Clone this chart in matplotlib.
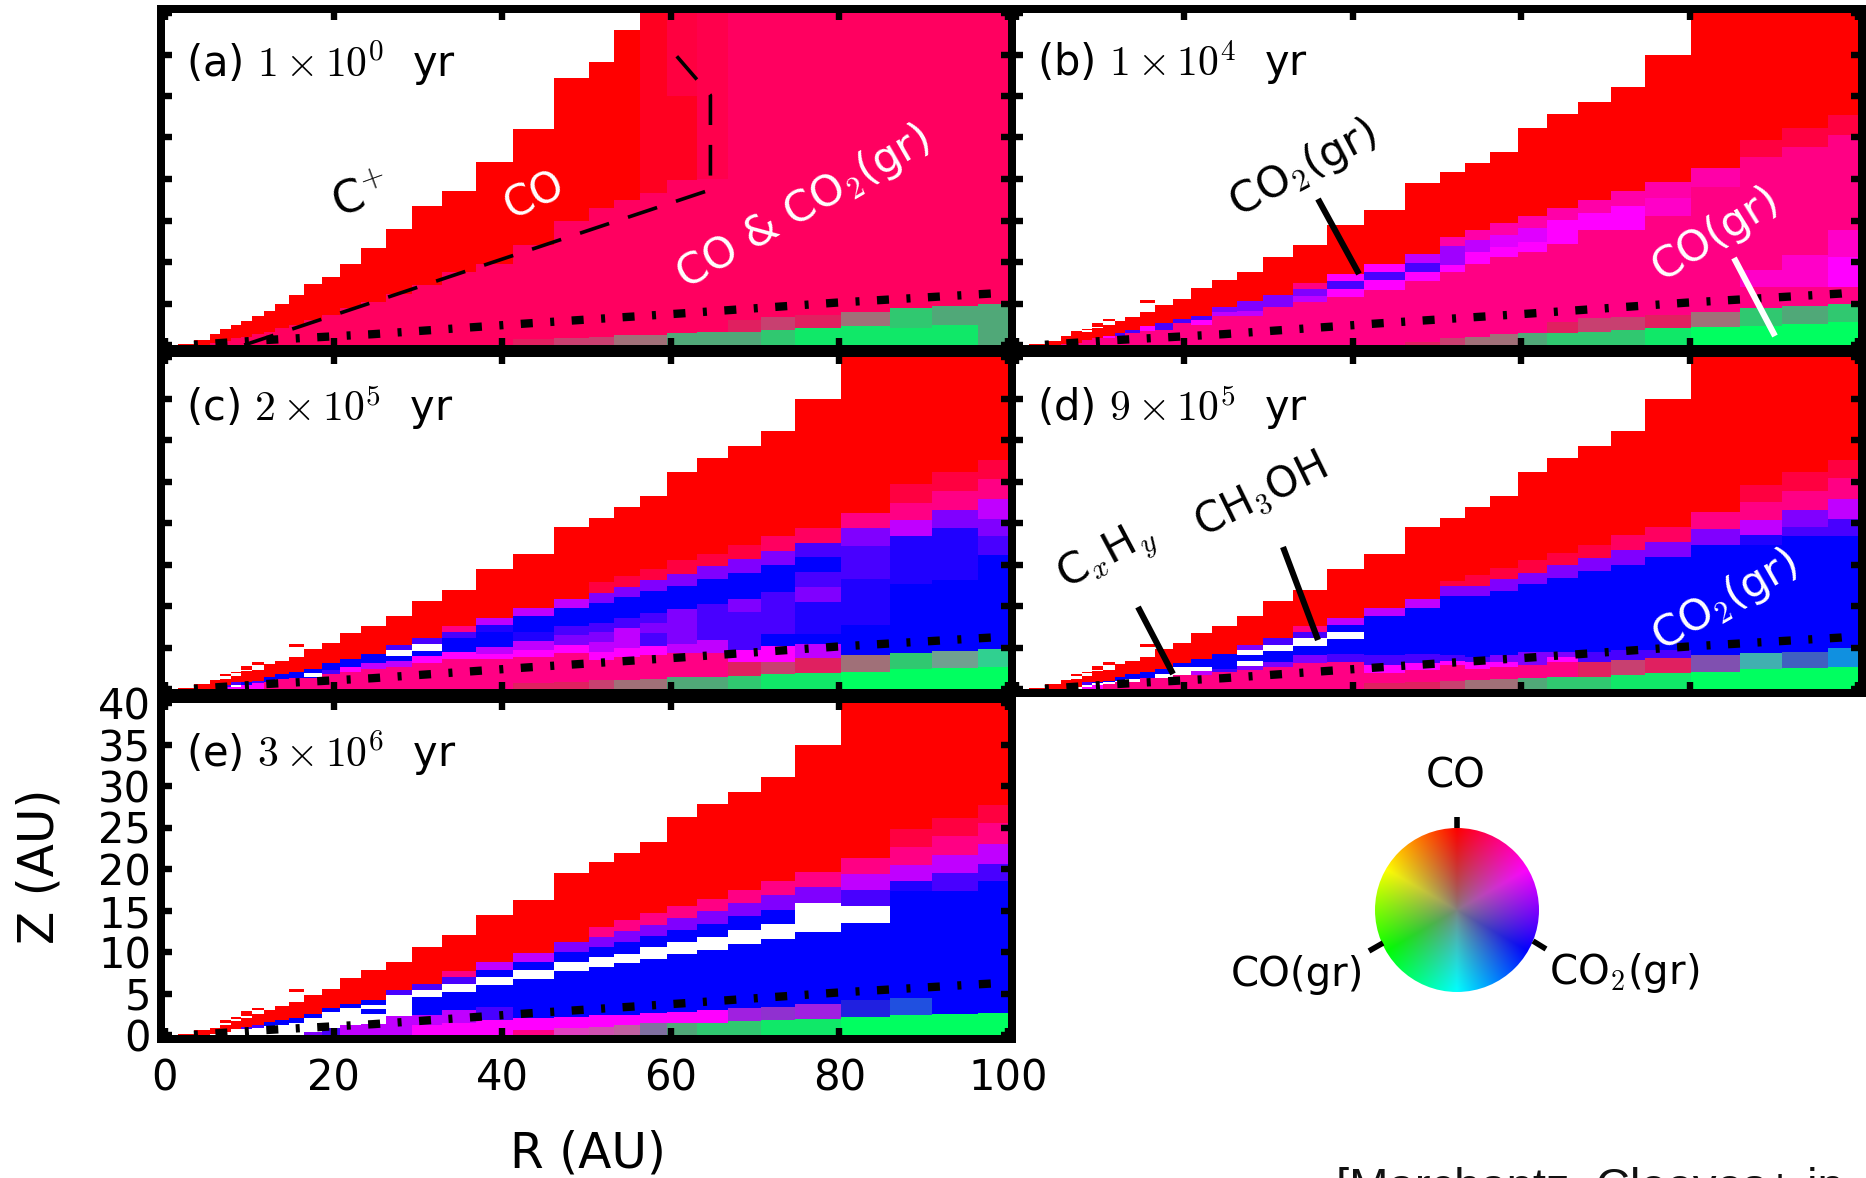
import numpy as np
import matplotlib
matplotlib.use("Agg")
import matplotlib.pyplot as plt
from matplotlib.colors import hsv_to_rgb
from matplotlib.lines import Line2D
from matplotlib.patches import Rectangle, Circle

plt.rcParams['font.family'] = ['DejaVu Sans']
plt.rcParams['mathtext.fontset'] = 'cm'

W, H = 1866, 1178

R_EDGES = [1.5, 3.4, 5.3, 6.5, 7.8, 9.0, 10.3, 11.7, 13.0, 14.7, 16.5, 18.6, 20.8, 23.3, 26.2, 29.3,
           32.9, 36.9, 41.3, 46.2, 50.3, 53.3, 56.3, 59.6, 63.1, 66.8, 70.7, 74.7, 80.2, 86.0, 91.0, 96.4, 100.0]

COLORS = {
    'W': '#ffffff', 'R': '#ff0000', 'E': '#ff0020', 'D': '#ff0040', 'F': '#ff004c', 'C': '#ff0060', 'H': '#ff0084',
    'N': '#ff00a8', 'Q': '#ff00c8', 'M': '#ff00ff', 'U': '#e000ff', 'V': '#c000ff', 'A': '#a000ff',
    'P': '#8000ff', 'I': '#4800ff', 'L': '#2000ff', 'B': '#0000ff',
    'G': '#00ff60', 'g0': '#10e868', 'g1': '#30c870', 'g2': '#50a878', 'g3': '#a07078', 'g4': '#c84070',
    'g5': '#e02060', 'T1': '#8050b0', 'T2': '#40b0b0', 'T3': '#4060c0', 'T4': '#1090e0', 'T5': '#2050e0',
    'T6': '#2020e0', 'T7': '#a020e0', 'T8': '#9030d0', 'X1': '#30d090', 'X2': '#70a090', 'X3': '#8070a0',
    'X4': '#c060a0', 'X5': '#d050b0', 'X6': '#e040c0',
}

# each column of each panel: (top of the cell in AU, colour code), from the midplane upwards
A_CELLS = [
    [(.1, 'R')], [(.6, 'R')], [(.3, 'C'), (1.3, 'R')], [(.5, 'C'), (1.9, 'R')], [(.8, 'C'), (2.4, 'R')],
    [(1, 'C'), (2.9, 'R')], [(1.3, 'C'), (3.5, 'R')], [(1.6, 'C'), (4.1, 'R')], [(2, 'C'), (4.9, 'R')],
    [(2.4, 'C'), (6, 'R')], [(3, 'C'), (7.3, 'R')], [(3.6, 'C'), (8.2, 'R')], [(4.4, 'C'), (9.8, 'R')],
    [(5.2, 'C'), (11.7, 'R')], [(6.2, 'C'), (14, 'R')], [(7.2, 'C'), (16.7, 'R')], [(8.8, 'C'), (18.6, 'R')],
    [(9.8, 'C'), (22, 'R')], [(.7, 'g5'), (12, 'C'), (26, 'R')], [(.9, 'g4'), (14.9, 'C'), (32.2, 'R')],
    [(1, 'g4'), (16.5, 'C'), (34.1, 'R')], [(1.2, 'g3'), (17.5, 'C'), (37.9, 'R')],
    [(1.2, 'g3'), (18.3, 'C'), (40, 'E')], [(1.4, 'g2'), (19.9, 'C'), (30, 'E'), (40, 'D')],
    [(1.6, 'g2'), (20, 'C'), (40, 'F')], [(1.6, 'g2'), (3, 'g5'), (40, 'C')], [(1.8, 'g1'), (3.4, 'g4'), (40, 'C')],
    [(2, 'g0'), (3.6, 'g5'), (40, 'C')], [(2.3, 'g0'), (4, 'g3'), (40, 'C')], [(2, 'g0'), (4.4, 'g1'), (40, 'C')],
    [(2.4, 'g0'), (4.7, 'g2'), (40, 'C')], [(5, 'g2'), (40, 'C')],
]
B_CELLS = [
    [(.1, 'R')], [(.5, 'R')], [(.1, 'H'), (1.1, 'R')], [(.3, 'H'), (1.4, 'R'), (1.5, 'W'), (1.7, 'R')],
    [(.6, 'H'), (1.6, 'R'), (1.8, 'W'), (1.9, 'R')], [(.8, 'H'), (2.1, 'R'), (2.2, 'W'), (2.7, 'R')],
    [(.8, 'H'), (1.1, 'M'), (2.4, 'R'), (2.9, 'W'), (3.1, 'R')], [(1.1, 'H'), (1.4, 'I'), (2.9, 'R')],
    [(1.4, 'H'), (1.8, 'I'), (3.4, 'R')], [(1.7, 'H'), (2.3, 'M'), (4, 'R'), (5.1, 'W'), (5.4, 'R')],
    [(1.8, 'H'), (2.7, 'I'), (4.8, 'R')], [(2.6, 'H'), (3.1, 'I'), (5.6, 'R')],
    [(2.4, 'H'), (3, 'M'), (3.5, 'I'), (6.9, 'R')], [(3.5, 'H'), (4, 'V'), (4.6, 'P'), (7.8, 'R')],
    [(3.5, 'H'), (4.1, 'V'), (5.3, 'P'), (8.8, 'R')], [(4.6, 'H'), (6, 'P'), (10.6, 'R')],
    [(5.2, 'H'), (5.9, 'V'), (6.8, 'P'), (7.5, 'H'), (12, 'R')], [(5.8, 'H'), (6.8, 'M'), (7.7, 'I'), (8.6, 'M'), (14.5, 'R')],
    [(6.6, 'H'), (7.8, 'M'), (8.8, 'I'), (9.7, 'M'), (16.3, 'R')], [(.4, 'g5'), (7.7, 'H'), (8.8, 'M'), (9.9, 'I'), (11, 'V'), (19.5, 'R')],
    [(.8, 'g4'), (8.8, 'H'), (9.6, 'M'), (11.9, 'A'), (13, 'N'), (20.8, 'R')],
    [(1, 'g3'), (9.8, 'H'), (11.2, 'M'), (12.6, 'V'), (13.9, 'N'), (21.9, 'R')],
    [(1.3, 'g3'), (10.6, 'H'), (11.8, 'M'), (13.3, 'U'), (14.7, 'N'), (23.2, 'R')],
    [(1.4, 'g2'), (11.2, 'H'), (12.4, 'M'), (14.1, 'U'), (15.5, 'N'), (26.1, 'R')],
    [(1.4, 'g1'), (2.8, 'g5'), (12.2, 'H'), (15.1, 'M'), (16.5, 'N'), (27.8, 'R')],
    [(1.6, 'g1'), (3.2, 'g4'), (13.9, 'H'), (15.9, 'M'), (17.5, 'N'), (29.3, 'R')],
    [(1.8, 'g1'), (3.4, 'g4'), (13.9, 'H'), (16.7, 'M'), (18.5, 'N'), (31.1, 'R')],
    [(2, 'g0'), (3.6, 'g5'), (15.5, 'H'), (17.7, 'Q'), (19.6, 'N'), (34.9, 'R')],
    [(2.2, 'G'), (4, 'g3'), (19, 'H'), (21.3, 'N'), (40, 'R')],
    [(2.3, 'G'), (4.4, 'g1'), (7, 'H'), (9, 'Q'), (22.7, 'H'), (24.7, 'D'), (40, 'R')],
    [(2.5, 'G'), (4.7, 'g2'), (7, 'H'), (10.8, 'Q'), (23.9, 'H'), (26.1, 'D'), (40, 'R')],
    [(2.8, 'G'), (5, 'g1'), (7, 'H'), (10.6, 'M'), (13.9, 'Q'), (25.3, 'H'), (27.7, 'D'), (40, 'R')],
]
C_CELLS = [
    [(.1, 'R')], [(.6, 'R')], [(1.1, 'R')], [(.2, 'M'), (.5, 'I'), (1.2, 'R'), (1.6, 'W'), (1.8, 'R')],
    [(.2, 'M'), (.5, 'W'), (.8, 'I'), (1.6, 'R'), (1.9, 'W'), (2.1, 'R')],
    [(.5, 'M'), (.9, 'B'), (2.2, 'R'), (2.3, 'W'), (2.8, 'R')], [(.7, 'M'), (1, 'I'), (2.3, 'R'), (2.9, 'W'), (3.2, 'R')],
    [(.9, 'H'), (1.5, 'B'), (3, 'R')], [(1.2, 'H'), (1.8, 'B'), (3.4, 'R')],
    [(1.3, 'H'), (2, 'B'), (3.9, 'R'), (5.1, 'W'), (5.4, 'R')], [(1.3, 'H'), (1.5, 'B'), (1.9, 'W'), (2.4, 'B'), (4.8, 'R')],
    [(1.8, 'H'), (2.3, 'I'), (3.1, 'B'), (5.5, 'R')], [(2.1, 'H'), (2.7, 'M'), (3.6, 'B'), (6.7, 'R')],
    [(2.4, 'H'), (3.1, 'V'), (4.2, 'B'), (7.6, 'R')], [(2.7, 'H'), (3.4, 'V'), (4, 'B'), (4.7, 'W'), (5.3, 'I'), (8.8, 'R')],
    [(3.1, 'H'), (4, 'M'), (4.6, 'B'), (5.4, 'W'), (6.1, 'I'), (10.6, 'R')],
    [(3.6, 'H'), (4.4, 'M'), (6.1, 'B'), (6.9, 'I'), (7.6, 'H'), (11.9, 'R')],
    [(3.6, 'H'), (4.2, 'M'), (5.1, 'V'), (6.9, 'B'), (7.7, 'L'), (8.6, 'V'), (14.5, 'R')],
    [(.7, 'g5'), (3.9, 'H'), (4.7, 'M'), (5.8, 'V'), (6.9, 'L'), (8.8, 'B'), (9.8, 'V'), (16.3, 'R')],
    [(.9, 'g5'), (4.3, 'H'), (5.3, 'M'), (6.5, 'P'), (7.6, 'I'), (9.8, 'B'), (10.9, 'V'), (19.5, 'R')],
    [(1.1, 'g4'), (3.5, 'H'), (4.5, 'M'), (5.7, 'V'), (6.9, 'P'), (8, 'I'), (10.4, 'B'), (11.6, 'P'), (12.9, 'D'), (20.6, 'R')],
    [(1.1, 'g3'), (3.9, 'H'), (4.9, 'M'), (7.3, 'V'), (8.5, 'I'), (11.1, 'B'), (12.3, 'P'), (13.6, 'D'), (21.9, 'R')],
    [(1.2, 'g3'), (4.1, 'H'), (5.2, 'M'), (6.7, 'I'), (7.9, 'P'), (9.1, 'I'), (11.8, 'B'), (13.1, 'P'), (14.4, 'D'), (23.2, 'R')],
    [(1.4, 'g2'), (4.3, 'H'), (5.4, 'V'), (9.6, 'P'), (12.4, 'B'), (13.9, 'P'), (15.5, 'D'), (26.1, 'R')],
    [(1.5, 'g2'), (4.3, 'H'), (5.9, 'V'), (10.3, 'I'), (13.3, 'B'), (14.8, 'P'), (16.3, 'D'), (27.8, 'R')],
    [(1.6, 'g1'), (3.2, 'g5'), (4.7, 'M'), (9.3, 'I'), (10.9, 'P'), (14, 'B'), (15.7, 'P'), (17.3, 'D'), (29.3, 'R')],
    [(1.8, 'g0'), (3.3, 'g4'), (5.2, 'M'), (6.6, 'B'), (11.7, 'I'), (14.9, 'B'), (16.6, 'P'), (18.4, 'C'), (31.1, 'R')],
    [(1.9, 'g0'), (3.7, 'g5'), (5.4, 'V'), (6.6, 'B'), (10.5, 'L'), (12.3, 'P'), (14.1, 'I'), (15.9, 'B'), (17.6, 'I'), (19.4, 'C'), (34.9, 'R')],
    [(2.1, 'G'), (4.1, 'g3'), (7.7, 'B'), (13.3, 'L'), (17.2, 'I'), (19.4, 'P'), (21.2, 'H'), (40, 'R')],
    [(2.4, 'G'), (4.3, 'g1'), (12.7, 'B'), (18.4, 'L'), (20.4, 'V'), (22.4, 'H'), (24.7, 'D'), (40, 'R')],
    [(2.5, 'G'), (4.6, 'X2'), (13.1, 'B'), (19.4, 'L'), (21.6, 'P'), (23.9, 'H'), (26.1, 'D'), (40, 'R')],
    [(2.7, 'G'), (4.8, 'X1'), (16.1, 'B'), (18.4, 'I'), (20.5, 'P'), (22.9, 'V'), (25.3, 'H'), (27.6, 'D'), (40, 'R')],
]
D_CELLS = [
    [(.1, 'R')], [(.6, 'R')], [(1.1, 'R')], [(.3, 'W'), (1.2, 'R'), (1.6, 'W'), (1.8, 'R')],
    [(.3, 'M'), (.5, 'W'), (.8, 'I'), (1.6, 'R'), (1.9, 'W'), (2.1, 'R')],
    [(.5, 'M'), (.7, 'W'), (.9, 'B'), (2.2, 'R'), (2.3, 'W'), (2.8, 'R')],
    [(.6, 'H'), (.8, 'W'), (1, 'B'), (2.3, 'R'), (2.9, 'W'), (3.2, 'R')], [(.8, 'H'), (1, 'W'), (1.5, 'B'), (3, 'R')],
    [(.9, 'H'), (1.2, 'W'), (1.8, 'B'), (3.4, 'R')], [(1.3, 'H'), (2, 'B'), (3.9, 'R'), (5.1, 'W'), (5.4, 'R')],
    [(1.3, 'H'), (1.8, 'W'), (2.4, 'B'), (4.8, 'R')], [(1.7, 'H'), (2.6, 'W'), (3.1, 'B'), (5.5, 'R')],
    [(1.7, 'H'), (2.2, 'V'), (2.6, 'W'), (3.6, 'B'), (6.7, 'R')], [(2, 'H'), (2.4, 'I'), (4.2, 'B'), (7.6, 'R')],
    [(2.3, 'H'), (2.8, 'P'), (3.4, 'W'), (4.1, 'B'), (4.7, 'W'), (5.3, 'P'), (8.8, 'R')],
    [(2.7, 'H'), (3.2, 'P'), (4.6, 'B'), (5.3, 'W'), (6.1, 'I'), (10.6, 'R')],
    [(3.1, 'H'), (4.1, 'P'), (5.2, 'B'), (6.1, 'W'), (6.9, 'I'), (7.6, 'H'), (11.9, 'R')],
    [(3.3, 'H'), (4.2, 'I'), (6, 'B'), (6.9, 'W'), (7.7, 'B'), (8.6, 'V'), (14.5, 'R')],
    [(.7, 'g5'), (1.9, 'H'), (2.9, 'M'), (4.1, 'I'), (8.8, 'B'), (9.8, 'V'), (16.3, 'R')],
    [(.9, 'g5'), (2.3, 'H'), (3.1, 'M'), (4.2, 'I'), (9.8, 'B'), (10.9, 'V'), (19.5, 'R')],
    [(1, 'g4'), (2.9, 'H'), (3.4, 'M'), (4.1, 'I'), (11.2, 'B'), (12.4, 'P'), (13, 'D'), (20.6, 'R')],
    [(1.1, 'g3'), (2.4, 'H'), (3.3, 'M'), (3.9, 'I'), (11.2, 'B'), (12.4, 'P'), (13.7, 'D'), (21.9, 'R')],
    [(1.2, 'g3'), (2.6, 'H'), (3.3, 'M'), (4.1, 'P'), (11.8, 'B'), (13.2, 'P'), (14.6, 'D'), (23.2, 'R')],
    [(1.3, 'g2'), (2.9, 'H'), (4.5, 'P'), (12.6, 'B'), (14, 'P'), (15.5, 'D'), (26.1, 'R')],
    [(1.4, 'g1'), (3.3, 'H'), (3.9, 'M'), (4.5, 'P'), (13.4, 'B'), (14.9, 'P'), (16.4, 'D'), (27.8, 'R')],
    [(1.5, 'g1'), (3.3, 'g5'), (4.5, 'I'), (14.2, 'B'), (15.8, 'P'), (17.4, 'D'), (29.3, 'R')],
    [(1.7, 'g0'), (3.5, 'g4'), (4.7, 'I'), (15, 'B'), (16.7, 'P'), (18.5, 'C'), (31.1, 'R')],
    [(1.9, 'g0'), (3.7, 'g5'), (4.7, 'I'), (15.9, 'B'), (17.7, 'P'), (19.5, 'C'), (34.9, 'R')],
    [(2.1, 'G'), (4.1, 'T1'), (17.3, 'B'), (19.3, 'P'), (21.3, 'H'), (40, 'R')],
    [(2.4, 'G'), (4.3, 'T2'), (17.4, 'B'), (18.5, 'L'), (20.4, 'V'), (22.5, 'H'), (24.6, 'D'), (40, 'R')],
    [(2.5, 'G'), (4.5, 'T3'), (18.4, 'B'), (19.5, 'I'), (21.6, 'P'), (23.9, 'H'), (26.1, 'D'), (40, 'R')],
    [(2.7, 'G'), (4.9, 'T4'), (18.4, 'B'), (20.5, 'I'), (22.9, 'V'), (25.4, 'H'), (27.6, 'D'), (40, 'R')],
]
E_CELLS = [
    [(.1, 'R')], [(.6, 'R')], [(.1, 'W'), (.9, 'R')], [(.4, 'W'), (1.2, 'R'), (1.5, 'W'), (1.8, 'R')],
    [(.7, 'W'), (1.7, 'R'), (1.9, 'W'), (2.2, 'R')], [(.7, 'W'), (1, 'I'), (2.1, 'R'), (2.3, 'W'), (2.85, 'R')],
    [(.8, 'W'), (1.2, 'I'), (2.5, 'R'), (3, 'W'), (3.2, 'R')], [(1.1, 'W'), (1.6, 'B'), (3, 'R')],
    [(1.2, 'W'), (1.8, 'B'), (3.5, 'R')], [(1.4, 'W'), (2.1, 'B'), (4, 'R'), (5.2, 'W'), (5.5, 'R')],
    [(.4, 'P'), (2.1, 'W'), (2.5, 'B'), (4.8, 'R')], [(.8, 'I'), (2.8, 'W'), (3.2, 'B'), (5.6, 'R')],
    [(1.2, 'V'), (3.2, 'W'), (3.7, 'B'), (6.9, 'R')], [(1.3, 'V'), (2.5, 'W'), (3.1, 'B'), (3.6, 'W'), (4.2, 'B'), (7.8, 'R')],
    [(2.3, 'V'), (4.8, 'W'), (5.4, 'I'), (8.75, 'R')], [(1.2, 'M'), (2.4, 'V'), (4.6, 'B'), (5.4, 'W'), (6.2, 'I'), (10.6, 'R')],
    [(1.4, 'M'), (3, 'V'), (5.2, 'B'), (6.2, 'W'), (7, 'I'), (7.7, 'H'), (12, 'R')],
    [(1.8, 'M'), (3.4, 'I'), (6, 'B'), (7, 'W'), (7.8, 'B'), (8.8, 'V'), (14.5, 'R')],
    [(.6, 'H'), (2, 'M'), (6.8, 'B'), (7.8, 'W'), (8.8, 'B'), (9.9, 'V'), (16.3, 'R')],
    [(.9, 'X6'), (2.2, 'M'), (7.7, 'B'), (8.8, 'W'), (10, 'B'), (11.2, 'P'), (19.5, 'R')],
    [(1, 'X5'), (2.4, 'M'), (8.2, 'B'), (9.4, 'W'), (10.6, 'B'), (11.8, 'P'), (13, 'H'), (20.8, 'R')],
    [(1.2, 'X4'), (2.4, 'M'), (8.7, 'B'), (9.8, 'W'), (11.2, 'B'), (12.5, 'P'), (13.9, 'H'), (21.9, 'R')],
    [(1.4, 'X3'), (2.6, 'M'), (9.2, 'B'), (10.6, 'W'), (11.9, 'B'), (13.3, 'P'), (14.7, 'H'), (23.2, 'R')],
    [(1.4, 'g2'), (2.8, 'M'), (9.8, 'B'), (11.2, 'W'), (12.6, 'B'), (14.1, 'P'), (15.5, 'H'), (26.3, 'R')],
    [(1.5, 'g1'), (3, 'M'), (10.3, 'B'), (11.8, 'W'), (13.4, 'B'), (14.9, 'P'), (16.4, 'H'), (27.8, 'R')],
    [(1.7, 'g1'), (3.2, 'T7'), (11, 'B'), (12.6, 'W'), (14.3, 'B'), (15.9, 'P'), (17.5, 'H'), (29.3, 'R')],
    [(1.8, 'g0'), (3.4, 'T8'), (11.6, 'B'), (13.4, 'W'), (15.1, 'B'), (16.9, 'P'), (18.5, 'H'), (31.1, 'R')],
    [(1.9, 'g0'), (3.7, 'T7'), (12.4, 'B'), (15.9, 'W'), (17.8, 'P'), (19.6, 'H'), (35, 'R')],
    [(2.2, 'G'), (4.2, 'T6'), (13.5, 'B'), (15.5, 'W'), (17.5, 'I'), (19.4, 'V'), (21.3, 'H'), (40, 'R')],
    [(2.4, 'G'), (4.4, 'T5'), (17.3, 'B'), (18.5, 'L'), (20.5, 'V'), (22.6, 'H'), (24.8, 'D'), (40, 'R')],
    [(2.5, 'G'), (17.3, 'B'), (19.5, 'I'), (21.7, 'V'), (24, 'H'), (26.1, 'D'), (40, 'R')],
    [(2.7, 'G'), (18.5, 'B'), (20.6, 'I'), (23, 'V'), (25.5, 'H'), (27.7, 'D'), (40, 'R')],
]

SNOW_R = [3, 6, 12, 24.6, 43, 61.2, 79.6, 98, 100]
SNOW_Z = [0.0, 0.2, 0.6, 1.3, 2.6, 3.8, 5.1, 6.2, 6.4]
DASH_R = [9.4, 64.7, 64.7, 60.1]
DASH_Z = [0.0, 18.7, 30.1, 35.5]

PANEL_TITLES = [r'(a) $1\times10^{0}$  yr', r'(b) $1\times10^{4}$  yr', r'(c) $2\times10^{5}$  yr',
                r'(d) $9\times10^{5}$  yr', r'(e) $3\times10^{6}$  yr']
R_TICKS = [0, 20, 40, 60, 80, 100]
Z_TICKS = [0, 5, 10, 15, 20, 25, 30, 35, 40]
# inner plot boxes in pixels: left, top, right, bottom
BOXES = [(165, 13, 1008, 345), (1016, 13, 1858, 345), (165, 357, 1008, 689), (1016, 357, 1858, 689), (165, 703, 1008, 1035)]
ALL_CELLS = [A_CELLS, B_CELLS, C_CELLS, D_CELLS, E_CELLS]

fig = plt.figure(figsize=(W / 100, H / 100), dpi=100)


def px(x, y):
    return x / W, 1 - y / H


def ftext(x, y, s, size=28, color='k', rot=0, ha='center', va='center', **kw):
    fx, fy = px(x, y)
    return fig.text(fx, fy, s, fontsize=size, color=color, rotation=rot, ha=ha, va=va,
                    rotation_mode='anchor', **kw)


def fline(x0, y0, x1, y1, lw=4.4, color='k', zorder=20):
    a, b = px(x0, y0), px(x1, y1)
    fig.add_artist(Line2D([a[0], b[0]], [a[1], b[1]], color=color, lw=lw, solid_capstyle='butt', zorder=zorder))


# black frames behind the axes
for (l, t, r, b) in BOXES:
    fx, fy = px(l - 8, b + 8)
    fig.add_artist(Rectangle((fx, fy), (r - l + 16) / W, (b - t + 16) / H, color='k', lw=0, zorder=0))

for i, (box, cells) in enumerate(zip(BOXES, ALL_CELLS)):
    l, t, r, b = box
    ax = fig.add_axes([l / W, 1 - b / H, (r - l) / W, (b - t) / H], zorder=1)
    lefts, widths, bottoms, heights, colors = [], [], [], [], []
    for j, col in enumerate(cells):
        z0 = 0.0
        for (z1, code) in col:
            lefts.append(R_EDGES[j])
            widths.append(R_EDGES[j + 1] - R_EDGES[j])
            bottoms.append(z0)
            heights.append(z1 - z0)
            colors.append(COLORS[code])
            z0 = z1
    ax.bar(lefts, heights, widths, bottoms, align='edge', color=colors, linewidth=0, antialiased=False, zorder=1)
    ax.plot(SNOW_R, SNOW_Z, color='k', lw=6, dash_capstyle='butt',
            linestyle=(3.1, (1.44, 2.1, 0.48, 2.1)), zorder=3)
    if i == 0:
        ax.plot(DASH_R, DASH_Z, color='k', lw=2.6, linestyle=(0, (8.5, 5.5)), zorder=3)
    ax.set_xlim(0, 100)
    ax.set_ylim(0, 40)
    ax.set_xticks(R_TICKS)
    ax.set_yticks(Z_TICKS)
    for s in ax.spines.values():
        s.set_visible(False)
    ax.tick_params(direction='in', length=5, width=4.6, top=True, right=True, labelsize=30,
                   labelbottom=(i == 4), labelleft=(i == 4))
    ax.tick_params(axis='x', pad=16.5)
    ax.tick_params(axis='y', pad=10)
    ftext(l + 21, t + 50, PANEL_TITLES[i], size=30, ha='left', zorder=25)

ftext(588, 1153, 'R (AU)', size=35)
ftext(40, 866, 'Z (AU)', size=35, rot=90)

# panel (a) labels
ftext(361, 196, r'C$^{+}$', size=32, rot=20, zorder=25)
ftext(534, 196, 'CO', size=30, color='w', rot=25, zorder=25)
ftext(803, 208, r'CO & CO$_2$(gr)', size=31, color='w', rot=30, zorder=25)
# panel (b) labels
ftext(1303, 169, r'CO$_2$(gr)', size=31, rot=28, zorder=25)
fline(1318, 199, 1359, 274)
ftext(1716, 234, 'CO(gr)', size=31, color='w', rot=32, zorder=25)
fline(1734, 258, 1775, 336, color='w')
# panel (d) labels
ftext(1107, 557, r'C$_x$H$_y$', size=31, rot=28, zorder=25)
fline(1138, 607, 1173, 674)
ftext(1261, 496, r'CH$_3$OH', size=30, rot=26, zorder=25)
fline(1283, 547, 1318, 640)
ftext(1725, 601, r'CO$_2$(gr)', size=31, color='w', rot=30, zorder=25)

# colour key
cx, cy, rad = 1457, 910, 82
kx = fig.add_axes([(cx - rad) / W, 1 - (cy + rad) / H, 2 * rad / W, 2 * rad / H], zorder=2)
gx, gy = np.meshgrid(np.linspace(-1, 1, 330), np.linspace(1, -1, 330))
rr = np.hypot(gx, gy)
ang = np.arctan2(gx, gy)
rgb = hsv_to_rgb(np.dstack([(-ang / (2 * np.pi)) % 1, np.ones_like(rr), np.ones_like(rr)]))
wgt = np.clip(rr, 0, 1)[..., None] ** 0.8
rgb = rgb * wgt + 0.5 * (1 - wgt)
im = kx.imshow(rgb, extent=(-1, 1, -1, 1), interpolation='bilinear')
im.set_clip_path(Circle((0, 0), 1, transform=kx.transData))
kx.axis('off')
fline(1457, 817, 1457, 828, lw=4)
fline(1369, 951, 1383, 943, lw=4)
fline(1533, 941, 1546, 949, lw=4)
ftext(1456, 776, 'CO', size=29)
ftext(1297, 975, 'CO(gr)', size=29)
ftext(1624, 973, r'CO$_2$(gr)', size=29)

ftext(1336, 1201, '[Marchantz, Cleeves+ in', size=34, ha='left', va='baseline', family='Liberation Sans', color='#111111')

fig.savefig('out.png', dpi=100)
